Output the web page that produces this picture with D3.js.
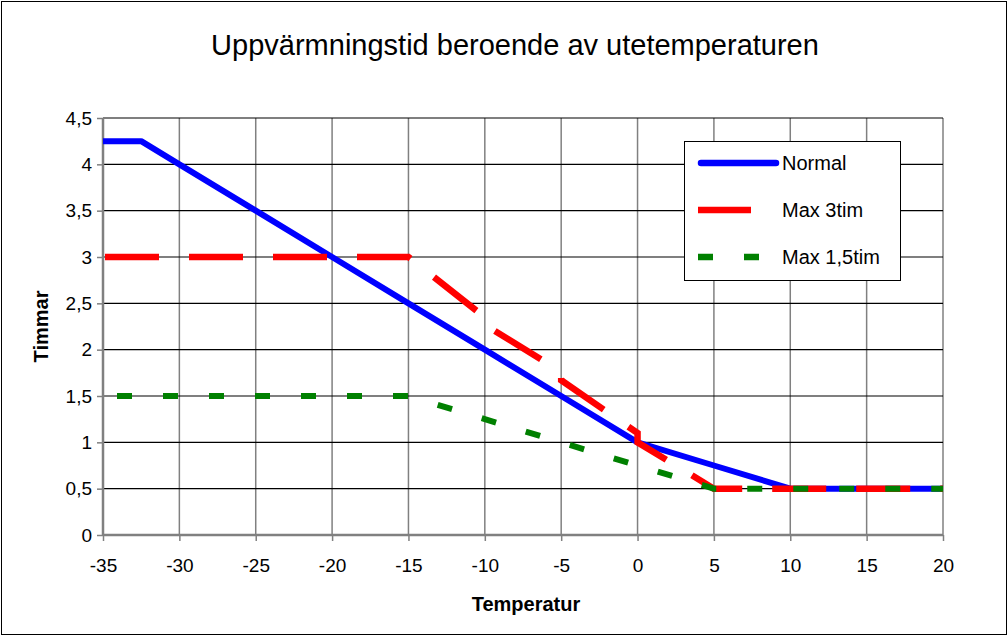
<!DOCTYPE html>
<html>
<head>
<meta charset="utf-8">
<script src="https://cdn.jsdelivr.net/npm/d3@7"></script>
<style>
    body { margin: 0; background: #fff; }
    svg { display: block; font-family: "Liberation Sans", Arial, sans-serif; }
</style>
</head>
<body>
<svg width="1008" height="636"></svg>
<script>
let W = 1008;
let H = 636;

// data
let xTicks = [-35, -30, -25, -20, -15, -10, -5, 0, 5, 10, 15, 20];
let yTicks = [0, 0.5, 1, 1.5, 2, 2.5, 3, 3.5, 4, 4.5];

let normalX = [-35, -32.5, -30, -25, -20, -15, -10, -5, 0, 5, 10, 15, 20];
let normalY = [4.25, 4.25, 4, 3.5, 3, 2.5, 2, 1.5, 1, 0.75, 0.5, 0.5, 0.5];

let max3X = [-35, -30, -25, -20, -15, -10, -10, -5, -5, 0, 0, 5, 10, 15, 20];
let max3Y = [3, 3, 3, 3, 3, 2.35, 2.27, 1.76, 1.67, 1.1, 1.0, 0.5, 0.5, 0.5, 0.5];

let max15X = [-35, -30, -25, -20, -15, -10, -5, 0, 5, 10, 15, 20];
let max15Y = [1.5, 1.5, 1.5, 1.5, 1.5, 1.25, 1, 0.75, 0.5, 0.5, 0.5, 0.5];

let seriesNames = ["Normal", "Max 3tim", "Max 1,5tim"];

let svg = d3.select("svg");

// outer frame
svg.append("rect")
    .attr("x", 1.5).attr("y", 1.5)
    .attr("width", W - 3).attr("height", H - 3)
    .attr("fill", "#fff").attr("stroke", "#000").attr("stroke-width", 1);

let pLeft = 103, pRight = 943, pTop = 118, pBottom = 535;

let x = d3.scaleLinear().domain([-35, 20]).range([pLeft, pRight]);
let y = d3.scaleLinear().domain([0, 4.5]).range([pBottom, pTop]);

// grid
svg.append("g").selectAll("line").data(xTicks).enter().append("line")
    .attr("x1", function (d) { return x(d); })
    .attr("x2", function (d) { return x(d); })
    .attr("y1", pTop).attr("y2", pBottom)
    .attr("stroke", "#808080").attr("stroke-width", 1.5);

svg.append("g").selectAll("line").data(yTicks).enter().append("line")
    .attr("x1", pLeft).attr("x2", pRight)
    .attr("y1", function (d) { return y(d); })
    .attr("y2", function (d) { return y(d); })
    .attr("stroke", "#000").attr("stroke-width", 1.2);

// axes
let fmt = function (d) { return String(d).replace(".", ","); };

let xAxis = svg.append("g")
    .attr("transform", "translate(0," + pBottom + ")")
    .call(d3.axisBottom(x).tickValues(xTicks).tickSize(6).tickPadding(18).tickFormat(fmt));

let yAxis = svg.append("g")
    .attr("transform", "translate(" + pLeft + ",0)")
    .call(d3.axisLeft(y).tickValues(yTicks).tickSize(6).tickPadding(5).tickFormat(fmt));

[xAxis, yAxis].forEach(function (a) {
    a.select(".domain").attr("stroke", "#808080").attr("stroke-width", 2.5);
    a.selectAll(".tick line").attr("stroke", "#808080").attr("stroke-width", 1.5);
    a.selectAll(".tick text")
        .attr("fill", "#000")
        .style("font-size", "19px")
        .style("font-family", "'Liberation Sans', Arial, sans-serif");
});
xAxis.select(".domain").attr("d", "M" + pLeft + ",0H" + pRight);
yAxis.select(".domain").attr("d", "M0," + pBottom + "V" + pTop);

// series (blue underneath, then red, green on top)
let line = d3.line()
    .x(function (d) { return x(d[0]); })
    .y(function (d) { return y(d[1]); });

function pairs(xs, ys) {
    return xs.map(function (v, i) { return [v, ys[i]]; });
}

svg.append("path")
    .datum(pairs(normalX, normalY))
    .attr("d", line)
    .attr("fill", "none")
    .attr("stroke", "#0000ff")
    .attr("stroke-width", 6)
    .attr("stroke-linejoin", "round");

svg.append("path")
    .datum(pairs(max3X, max3Y))
    .attr("d", line)
    .attr("fill", "none")
    .attr("stroke", "#ff0000")
    .attr("stroke-width", 6.5)
    .attr("stroke-dasharray", "54,30")
    .attr("stroke-dashoffset", -2);

svg.append("path")
    .datum(pairs(max15X, max15Y))
    .attr("d", line)
    .attr("fill", "none")
    .attr("stroke", "#008000")
    .attr("stroke-width", 6)
    .attr("stroke-dasharray", "15,31")
    .attr("stroke-dashoffset", -14);

// title and axis titles
svg.append("text")
    .attr("x", 515).attr("y", 55)
    .attr("text-anchor", "middle")
    .style("font-size", "29px")
    .text("Uppvärmningstid beroende av utetemperaturen");

svg.append("text")
    .attr("x", 526).attr("y", 611)
    .attr("text-anchor", "middle")
    .style("font-size", "20px").style("font-weight", "bold")
    .text("Temperatur");

svg.append("text")
    .attr("transform", "translate(48," + ((pTop + pBottom) / 2) + ") rotate(-90)")
    .attr("text-anchor", "middle")
    .style("font-size", "20px").style("font-weight", "bold")
    .text("Timmar");

// legend
let lg = svg.append("g");
lg.append("rect")
    .attr("x", 684.5).attr("y", 141.5)
    .attr("width", 216).attr("height", 139)
    .attr("fill", "#fff").attr("stroke", "#000").attr("stroke-width", 1);

let legendY = [163, 210, 257];
let legendStyle = [
    { color: "#0000ff", dash: null, x2: 779, cap: "round" },
    { color: "#ff0000", dash: null, x2: 751, cap: "butt" },
    { color: "#008000", dash: "15,31", x2: 759, cap: "butt" }
];

seriesNames.forEach(function (name, i) {
    let s = legendStyle[i];
    let l = lg.append("line")
        .attr("x1", s.cap === "round" ? 701 : 698).attr("x2", s.cap === "round" ? 776 : s.x2)
        .attr("y1", legendY[i]).attr("y2", legendY[i])
        .attr("stroke", s.color).attr("stroke-width", 6.5)
        .attr("stroke-linecap", s.cap);
    if (s.dash) l.attr("stroke-dasharray", s.dash);
    lg.append("text")
        .attr("x", 782).attr("y", legendY[i] + 7)
        .style("font-size", "20px")
        .text(name);
});
</script>
</body>
</html>
